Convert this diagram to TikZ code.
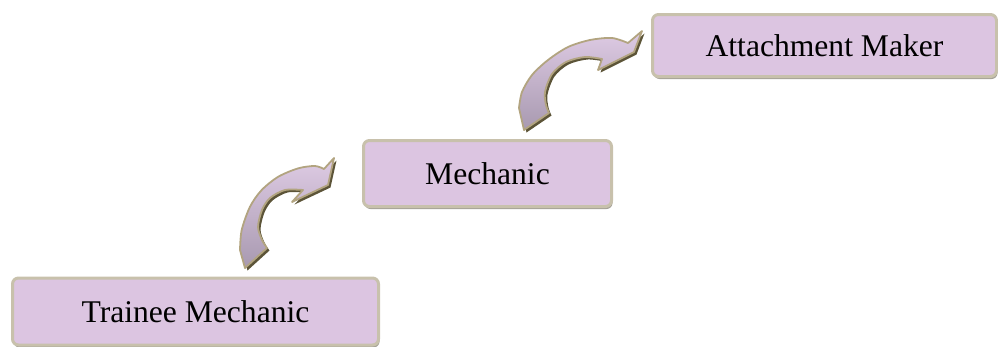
\documentclass[tikz,border=0pt]{standalone}
\usepackage{fontspec}
\setmainfont{Liberation Serif}
\usetikzlibrary{shadows}
\definecolor{boxfill}{RGB}{220,197,225}
\definecolor{boxline}{RGB}{200,193,172}
\definecolor{boxshade}{RGB}{165,162,152}
\definecolor{arrowlight}{RGB}{222,203,228}
\definecolor{arrowdark}{RGB}{168,153,176}
\definecolor{arrowline}{RGB}{178,164,128}
\definecolor{arrowshade}{RGB}{92,84,56}
\tikzset{
  stagebox/.style={draw=boxline,line width=3pt,fill=boxfill,rounded corners=6pt,
    font=\fontsize{31.6}{36}\selectfont,
    drop shadow={shadow xshift=1pt,shadow yshift=-2.5pt,fill=boxshade,opacity=1}},
  risebody/.style={top color=arrowlight,bottom color=arrowdark,draw=arrowline,line width=1.8pt,line join=round},
  riseshade/.style={fill=arrowshade,shift={(2.5,2.5)}}
}
\newcommand{\firstrise}{(245,268) -- plot[smooth] coordinates {(240,250) (241.7,230) (250,206.7) (261.7,190) (278.3,176.7) (298.3,168.3) (315,166) (324,169)} -- (334,158) -- (328,185) -- (292,202) -- plot[smooth] coordinates {(303,190) (285,190) (270,198) (262,210) (258,227) (262,240) (267,248)} -- cycle}
\newcommand{\secondrise}{(524,130) -- plot[smooth] coordinates {(519,108) (522,92) (532,75) (548,60) (568,47) (590,40) (612,38) (628,43)} -- (642,31) -- (634,52) -- (598,70) -- plot[smooth] coordinates {(602,59) (585,57) (566,62) (552,74) (545,92) (546,105) (549,113)} -- cycle}
\begin{document}
\begin{tikzpicture}[x=1pt,y=-1pt]
                \useasboundingbox (0,0) rectangle (998,346);
                \node[stagebox,minimum width=366pt,minimum height=67pt] (trainee) at (195.5,311.5) {Trainee Mechanic};
                \node[stagebox,minimum width=248pt,minimum height=66pt] (mechanic) at (487.5,173.5) {Mechanic};
                \node[stagebox,minimum width=344pt,minimum height=62pt] (maker) at (824.5,45.5) {Attachment Maker};
                \fill[riseshade] \firstrise;
                \shadedraw[risebody] \firstrise;
                \fill[riseshade] \secondrise;
                \shadedraw[risebody] \secondrise;
\end{tikzpicture}
\end{document}
